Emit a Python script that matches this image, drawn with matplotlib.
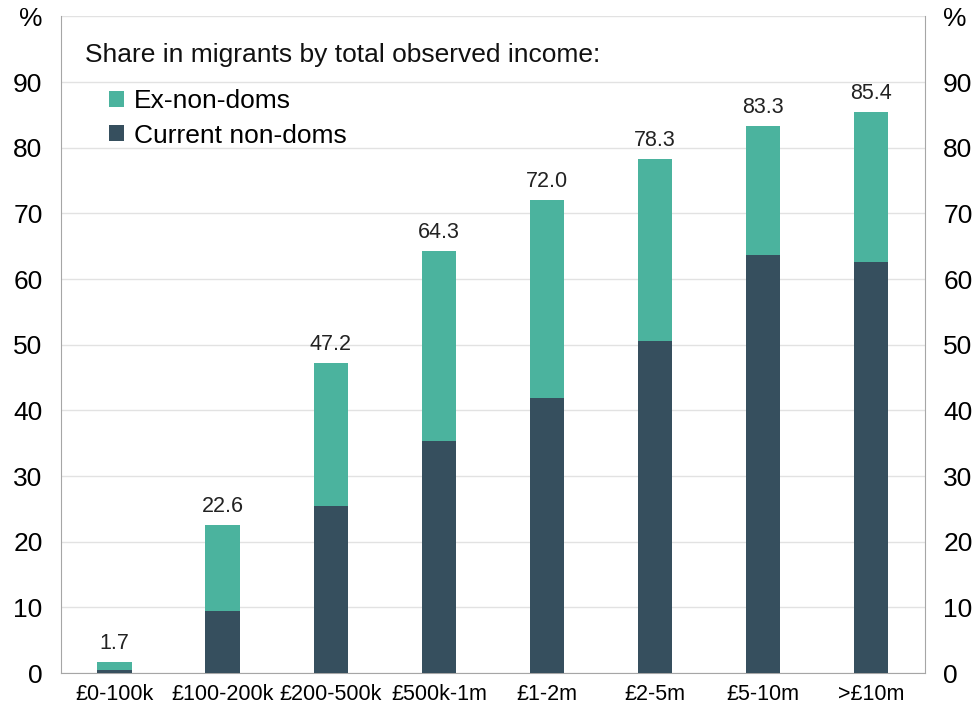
import matplotlib
matplotlib.use("Agg")
import matplotlib.pyplot as plt
import numpy as np

plt.rcParams['font.family'] = ['Liberation Sans', 'DejaVu Sans']

categories = ["£0-100k", "£100-200k", "£200-500k", "£500k-1m", "£1-2m", "£2-5m", "£5-10m", ">£10m"]
totals = [1.7, 22.6, 47.2, 64.3, 72.0, 78.3, 83.3, 85.4]
current = [0.5, 9.4, 25.5, 35.3, 41.9, 50.5, 63.6, 62.6]
ex = [t - c for t, c in zip(totals, current)]
ytick_vals = [0, 10, 20, 30, 40, 50, 60, 70, 80, 90, 100]
ytick_labels = ["0", "10", "20", "30", "40", "50", "60", "70", "80", "90", "%"]

teal = "#4BB39E"
dark = "#364F5E"

fig = plt.figure(figsize=(9.78, 7.1), dpi=100)
ax = fig.add_axes([0.062, 0.052, 0.884, 0.925])
x = np.arange(len(categories))
w = 0.32
b1 = ax.bar(x, current, w, color=dark, label="Current non-doms", zorder=3)
b2 = ax.bar(x, ex, w, bottom=current, color=teal, label="Ex-non-doms", zorder=3)
for xi, t in zip(x, totals):
    ax.text(xi, t + 1.2, f"{t:.1f}", ha="center", va="bottom", fontsize=15.5, color="#222222")

ax.set_ylim(0, 100)
ax.set_xlim(-0.5, len(categories) - 0.5)
ax.set_yticks(ytick_vals)
ax.set_yticklabels(ytick_labels)
ax.set_xticks(x)
ax.set_xticklabels(categories, fontsize=15.5)
ax.tick_params(axis="y", length=0, labelsize=19, pad=13, labelright=True, right=False)
ax.tick_params(axis="x", length=0, pad=8)
ax.grid(axis="y", color="#E2E2E2", linewidth=1, zorder=0)
for s in ["left", "right", "bottom"]:
    ax.spines[s].set_color("#A6A6A6")
ax.spines["top"].set_visible(False)

fig.text(85 / 978, 1 - 55 / 710, "Share in migrants by total observed income:",
         ha="left", va="center", fontsize=19, color="#111111")
leg = ax.legend(handles=[b2, b1], loc="upper left",
                bbox_to_anchor=(109 / 978, 1 - 89 / 710), bbox_transform=fig.transFigure,
                frameon=False, fontsize=19,
                handlelength=0.55, handleheight=0.55, handletextpad=0.4,
                labelspacing=0.4, borderaxespad=0, borderpad=0)

fig.savefig("out.png", dpi=100)
